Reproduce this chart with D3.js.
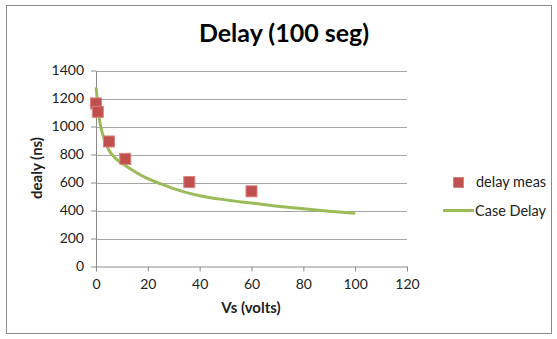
<!DOCTYPE html>
<html><head><meta charset="utf-8">
<script src="https://cdn.jsdelivr.net/npm/d3@7"></script>
<style>body{margin:0;background:#fff}svg{display:block}</style>
</head><body><svg id="c" width="557" height="339"></svg>
<script>
const measX = [0, 0.7, 5, 11.3, 36, 60];
const measY = [1165, 1105, 893, 769, 603, 537];
const caseX = [0, 0.5, 1, 1.5, 2, 3, 5, 8, 12, 16, 20, 25, 30, 35, 40, 50, 60, 70, 80, 90, 100];
const caseY = [1280, 1195, 1105, 1030, 985, 920, 830, 765, 712, 666, 627, 590, 556, 528, 506, 476, 453, 431, 412, 395, 380];
const xTicks = [0, 20, 40, 60, 80, 100, 120];
const yTicks = [0, 200, 400, 600, 800, 1000, 1200, 1400];
const title = "Delay (100 seg)";
const xTitle = "Vs (volts)";
const yTitle = "dealy (ns)";
const legendNames = ["delay meas", "Case Delay"];

const font = "Lato, 'Open Sans', sans-serif";
const svg = d3.select("#c");
svg.append("rect").attr("x", 6.5).attr("y", 5.5).attr("width", 545).attr("height", 328)
  .attr("fill", "#fff").attr("stroke", "#8c8c8c").attr("stroke-width", 1);

const x = d3.scaleLinear().domain([0, 120]).range([96, 407]);
const y = d3.scaleLinear().domain([0, 1400]).range([266.5, 70.5]);

svg.append("g").selectAll("line").data(yTicks.filter(d => d > 0)).join("line")
  .attr("x1", x(0)).attr("x2", x(120)).attr("y1", d => Math.round(y(d)) + 0.5).attr("y2", d => Math.round(y(d)) + 0.5)
  .attr("stroke", "#a6a6a6").attr("stroke-width", 1);

const yAxis = d3.axisLeft(y).tickValues(yTicks).tickFormat(d3.format("d")).tickSize(5).tickSizeOuter(0).tickPadding(7);
const gy = svg.append("g").attr("transform", `translate(${x(0)},0)`).call(yAxis);
const xAxis = d3.axisBottom(x).tickValues(xTicks).tickFormat(d3.format("d")).tickSize(5).tickSizeOuter(0).tickPadding(8);
const gx = svg.append("g").attr("transform", `translate(0,${y(0)})`).call(xAxis);
[gx, gy].forEach(g => {
  g.selectAll("path,line").attr("stroke", "#8c8c8c");
  g.selectAll("text").attr("font-family", font).attr("font-size", 14).attr("fill", "#222");
});

const line = d3.line().x((d, i) => x(caseX[i])).y((d, i) => y(caseY[i])).curve(d3.curveMonotoneX);
svg.append("path").datum(caseY).attr("d", line).attr("fill", "none")
  .attr("stroke", "#9bbb59").attr("stroke-width", 3);

const ms = 11;
svg.append("g").selectAll("rect").data(measY).join("rect")
  .attr("x", (d, i) => x(measX[i]) - ms / 2).attr("y", d => y(d) - ms / 2)
  .attr("width", ms).attr("height", ms)
  .attr("fill", "#c0504d").attr("stroke", "#d9827f").attr("stroke-width", 1);

svg.append("text").attr("x", 284).attr("y", 42).attr("text-anchor", "middle")
  .attr("font-family", font).attr("font-weight", "bold").attr("font-size", 25).attr("fill", "#000").text(title);
svg.append("text").attr("x", 251).attr("y", 313).attr("text-anchor", "middle")
  .attr("font-family", font).attr("font-weight", "bold").attr("font-size", 15).attr("fill", "#222").text(xTitle);
svg.append("text").attr("transform", "translate(42,168) rotate(-90)").attr("text-anchor", "middle")
  .attr("font-family", font).attr("font-weight", "bold").attr("font-size", 15).attr("fill", "#222").text(yTitle);

svg.append("rect").attr("x", 453.5).attr("y", 177.5).attr("width", 10).attr("height", 10)
  .attr("fill", "#c0504d").attr("stroke", "#d9827f");
svg.append("text").attr("x", 476).attr("y", 187).attr("font-family", font).attr("font-size", 14.5)
  .attr("fill", "#222").text(legendNames[0]);
svg.append("line").attr("x1", 443).attr("x2", 474).attr("y1", 210.5).attr("y2", 210.5)
  .attr("stroke", "#9bbb59").attr("stroke-width", 3);
svg.append("text").attr("x", 475).attr("y", 215.5).attr("font-family", font).attr("font-size", 14.5)
  .attr("fill", "#222").text(legendNames[1]);
</script></body></html>
